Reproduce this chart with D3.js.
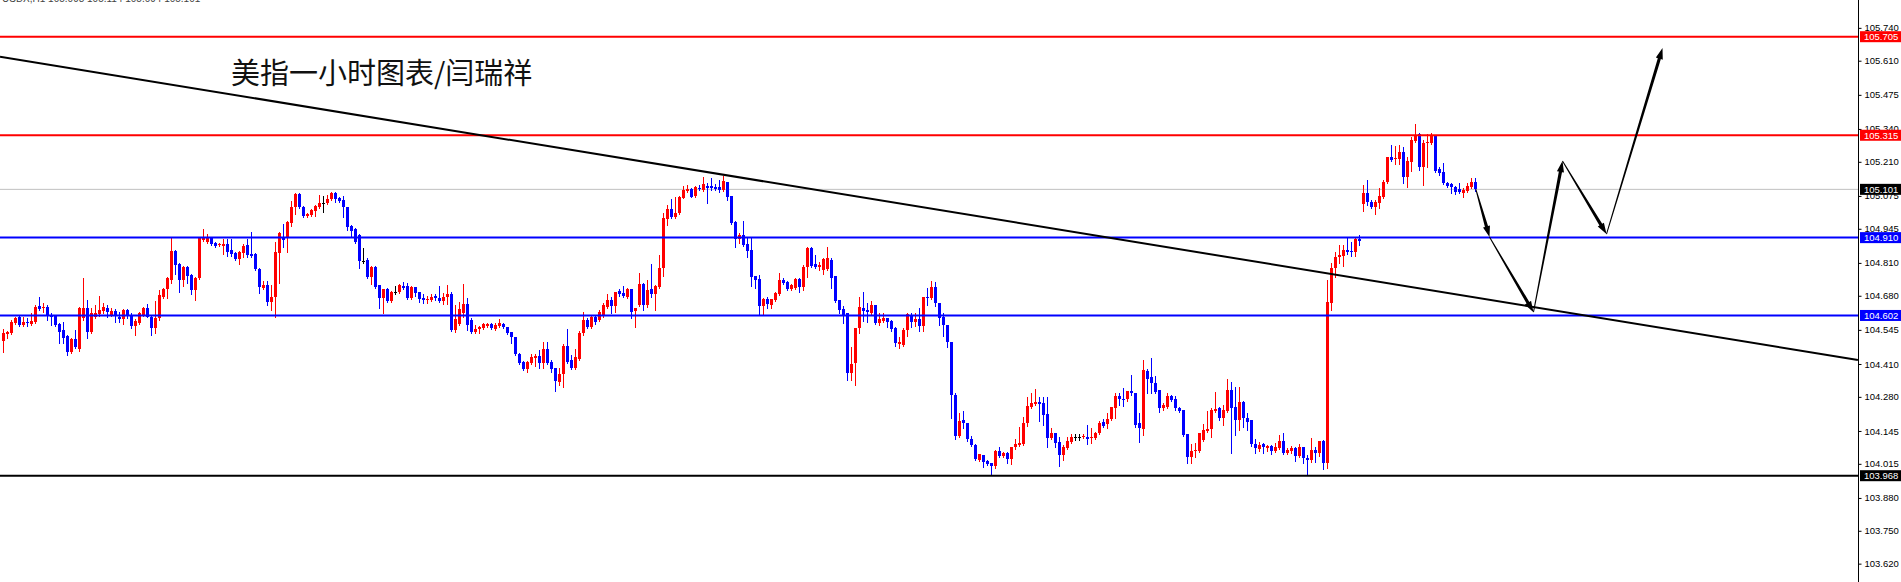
<!DOCTYPE html>
<html><head><meta charset="utf-8">
<script src="https://cdn.jsdelivr.net/npm/d3@7"></script>
<style>html,body{margin:0;padding:0;background:#fff;overflow:hidden}svg{display:block}</style>
</head><body><svg id="c" width="1901" height="582"></svg>
<script>
// ---- DATA (USDX H1) ----
const openP = [
104.501,104.528,104.532,104.572,104.596,104.564,104.576,104.568,104.576,104.639,104.631,104.635,104.599,104.599,104.568,104.544,104.520,104.457,104.509,104.469,
104.592,104.631,104.536,104.596,104.607,104.619,104.631,104.603,104.619,104.596,104.588,104.623,104.599,104.560,104.572,104.603,104.631,104.596,104.552,104.592,
104.675,104.706,104.742,104.857,104.805,104.742,104.793,104.762,104.702,104.750,104.900,104.892,104.908,104.888,104.880,104.876,104.884,104.861,104.849,104.825,
104.849,104.880,104.845,104.845,104.786,104.710,104.722,104.655,104.675,104.849,104.908,104.908,104.967,105.031,105.082,105.031,104.995,104.999,105.015,105.031,
105.047,105.047,105.063,105.086,105.067,105.059,105.031,104.955,104.944,104.920,104.817,104.821,104.754,104.793,104.722,104.671,104.706,104.659,104.694,104.694,
104.718,104.718,104.671,104.714,104.694,104.671,104.663,104.663,104.679,104.671,104.659,104.675,104.686,104.544,104.568,104.611,104.647,104.584,104.536,104.548,
104.552,104.560,104.568,104.548,104.560,104.568,104.556,104.536,104.516,104.449,104.417,104.390,104.413,104.433,104.441,104.413,104.469,104.417,104.394,104.338,
104.370,104.481,104.425,104.394,104.429,104.532,104.584,104.556,104.596,104.584,104.599,104.635,104.663,104.639,104.698,104.690,104.675,104.706,104.619,104.643,
104.726,104.643,104.706,104.686,104.714,104.790,104.983,105.023,104.991,105.007,105.067,105.094,105.102,105.074,105.106,105.098,105.114,105.114,105.110,105.110,
105.098,105.130,105.074,104.971,104.904,104.920,104.884,104.861,104.758,104.746,104.639,104.667,104.643,104.663,104.686,104.742,104.734,104.706,104.710,104.746,
104.714,104.793,104.869,104.805,104.793,104.782,104.786,104.821,104.758,104.663,104.627,104.611,104.374,104.413,104.552,104.631,104.623,104.611,104.643,104.572,
104.580,104.592,104.580,104.552,104.489,104.485,104.544,104.603,104.576,104.588,104.560,104.675,104.671,104.714,104.651,104.596,104.564,104.497,104.287,104.125,
104.188,104.176,104.113,104.089,104.030,104.049,104.026,104.018,104.006,104.065,104.045,104.057,104.034,104.081,104.089,104.093,104.176,104.239,104.251,104.259,
104.255,104.212,104.117,104.136,104.101,104.049,104.077,104.101,104.121,104.121,104.121,104.121,104.117,104.117,104.136,104.180,104.172,104.192,104.235,104.283,
104.271,104.271,104.303,104.295,104.176,104.152,104.382,104.358,104.334,104.307,104.235,104.239,104.283,104.271,104.235,104.228,104.133,104.041,104.065,104.065,
104.109,104.144,104.152,104.224,104.235,104.196,104.224,104.307,104.239,104.188,104.259,104.196,104.188,104.093,104.073,104.093,104.077,104.085,104.065,104.077,
104.105,104.057,104.065,104.077,104.045,104.081,104.038,104.030,104.069,104.057,104.105,104.018,104.651,104.790,104.833,104.837,104.861,104.857,104.853,104.904,
105.043,105.086,105.051,105.031,105.047,105.071,105.130,105.229,105.221,105.221,105.248,105.150,105.209,105.292,105.320,105.189,105.284,105.284,105.312,105.181,
105.169,105.126,105.122,105.110,105.102,105.086,105.094,105.110,105.130];
const highP = [
104.548,104.540,104.584,104.596,104.600,104.596,104.592,104.611,104.643,104.675,104.651,104.643,104.611,104.603,104.572,104.576,104.524,104.513,104.544,104.635,
104.750,104.663,104.631,104.643,104.679,104.651,104.643,104.631,104.627,104.615,104.627,104.627,104.611,104.588,104.615,104.635,104.647,104.603,104.659,104.702,
104.710,104.754,104.908,104.861,104.809,104.797,104.797,104.766,104.754,104.912,104.944,104.924,104.912,104.892,104.888,104.904,104.904,104.904,104.853,104.857,
104.884,104.904,104.932,104.849,104.790,104.738,104.738,104.722,104.892,104.932,104.963,104.975,105.055,105.086,105.086,105.035,105.007,105.023,105.039,105.078,
105.074,105.078,105.090,105.090,105.071,105.074,105.031,104.959,104.948,104.924,104.869,104.829,104.797,104.797,104.722,104.706,104.710,104.698,104.718,104.726,
104.734,104.730,104.718,104.714,104.694,104.686,104.679,104.686,104.686,104.718,104.690,104.722,104.694,104.643,104.655,104.726,104.671,104.592,104.564,104.560,
104.572,104.572,104.572,104.572,104.588,104.572,104.556,104.536,104.516,104.453,104.421,104.421,104.449,104.449,104.465,104.497,104.497,104.425,104.394,104.394,
104.489,104.548,104.445,104.469,104.540,104.615,104.592,104.599,104.603,104.623,104.651,104.686,104.675,104.694,104.706,104.718,104.710,104.706,104.631,104.770,
104.730,104.742,104.805,104.722,104.841,105.007,105.039,105.063,105.071,105.074,105.114,105.118,105.106,105.114,105.118,105.150,105.126,105.146,105.122,105.138,
105.154,105.130,105.074,104.975,104.928,104.975,104.908,104.908,104.758,104.762,104.671,104.675,104.667,104.694,104.770,104.750,104.738,104.726,104.750,104.750,
104.801,104.872,104.872,104.841,104.813,104.829,104.872,104.829,104.758,104.663,104.639,104.611,104.477,104.552,104.675,104.694,104.651,104.659,104.643,104.611,
104.611,104.592,104.584,104.556,104.516,104.552,104.611,104.611,104.611,104.631,104.675,104.710,104.738,104.734,104.651,104.611,104.564,104.497,104.295,104.216,
104.224,104.176,104.125,104.093,104.053,104.049,104.030,104.018,104.069,104.081,104.061,104.061,104.081,104.113,104.160,104.200,104.279,104.295,104.311,104.279,
104.279,104.279,104.156,104.136,104.121,104.089,104.121,104.133,104.133,104.133,104.133,104.168,104.156,104.140,104.184,104.192,104.216,104.239,104.295,104.295,
104.315,104.303,104.366,104.295,104.216,104.425,104.390,104.433,104.362,104.307,104.255,104.295,104.287,104.283,104.239,104.228,104.133,104.093,104.097,104.136,
104.172,104.224,104.235,104.299,104.239,104.247,104.350,104.338,104.319,104.319,104.263,104.216,104.188,104.113,104.101,104.097,104.089,104.089,104.097,104.129,
104.136,104.077,104.085,104.081,104.093,104.081,104.049,104.117,104.081,104.105,104.109,104.742,104.809,104.853,104.880,104.880,104.908,104.892,104.908,104.920,
105.118,105.138,105.059,105.059,105.106,105.138,105.229,105.276,105.272,105.276,105.268,105.229,105.308,105.359,105.324,105.296,105.320,105.324,105.316,105.189,
105.205,105.130,105.126,105.114,105.126,105.106,105.126,105.146,105.146];
const lowP = [
104.457,104.513,104.528,104.568,104.560,104.562,104.560,104.566,104.572,104.623,104.615,104.584,104.564,104.560,104.493,104.493,104.445,104.453,104.473,104.461,
104.584,104.513,104.532,104.592,104.599,104.611,104.596,104.599,104.576,104.576,104.568,104.592,104.552,104.524,104.570,104.599,104.594,104.524,104.532,104.584,
104.671,104.671,104.730,104.766,104.694,104.718,104.730,104.686,104.663,104.746,104.896,104.890,104.880,104.872,104.876,104.845,104.837,104.837,104.821,104.805,
104.833,104.833,104.833,104.782,104.690,104.708,104.643,104.623,104.596,104.730,104.872,104.853,104.955,105.003,105.027,104.991,104.991,104.995,104.995,105.027,
105.011,105.043,105.059,105.051,105.051,104.991,104.940,104.912,104.888,104.790,104.809,104.750,104.726,104.710,104.631,104.611,104.655,104.655,104.686,104.690,
104.706,104.667,104.667,104.679,104.655,104.651,104.651,104.661,104.663,104.655,104.647,104.647,104.540,104.536,104.564,104.596,104.544,104.534,104.534,104.532,
104.548,104.556,104.548,104.544,104.556,104.552,104.528,104.493,104.445,104.411,104.386,104.378,104.411,104.401,104.394,104.394,104.411,104.378,104.303,104.326,
104.318,104.415,104.390,104.392,104.425,104.524,104.554,104.554,104.568,104.580,104.596,104.631,104.611,104.615,104.679,104.675,104.671,104.592,104.556,104.639,
104.623,104.635,104.675,104.623,104.710,104.758,104.959,104.987,104.989,105.003,105.065,105.090,105.069,105.072,105.098,105.096,105.047,105.098,105.098,105.090,
105.094,105.059,104.965,104.872,104.888,104.878,104.833,104.718,104.710,104.603,104.607,104.631,104.631,104.661,104.684,104.726,104.702,104.704,104.706,104.694,
104.702,104.754,104.793,104.790,104.782,104.766,104.782,104.710,104.655,104.611,104.572,104.346,104.346,104.326,104.532,104.580,104.576,104.607,104.568,104.564,
104.576,104.556,104.540,104.481,104.473,104.483,104.520,104.556,104.560,104.540,104.540,104.643,104.667,104.639,104.564,104.520,104.477,104.196,104.113,104.121,
104.156,104.105,104.085,104.030,104.028,104.002,104.010,103.970,103.998,104.041,104.041,104.018,104.014,104.073,104.085,104.089,104.164,104.237,104.249,104.184,
104.168,104.081,104.115,104.081,104.006,104.030,104.075,104.099,104.109,104.109,104.117,104.093,104.097,104.115,104.133,104.160,104.156,104.188,104.196,104.247,
104.243,104.263,104.287,104.160,104.101,104.129,104.295,104.295,104.297,104.220,104.228,104.237,104.263,104.228,104.220,104.125,104.018,104.018,104.041,104.061,
104.105,104.140,104.121,104.222,104.188,104.168,104.220,104.057,104.129,104.148,104.160,104.148,104.085,104.057,104.065,104.057,104.065,104.053,104.061,104.075,
104.055,104.055,104.057,104.026,104.041,104.018,103.970,104.022,104.022,104.045,103.994,103.998,104.623,104.754,104.809,104.797,104.845,104.837,104.837,104.880,
105.015,105.039,105.029,105.003,105.027,105.067,105.126,105.213,105.201,105.201,105.126,105.110,105.173,105.288,105.177,105.118,105.189,105.282,105.171,105.157,
105.122,105.110,105.086,105.082,105.086,105.071,105.092,105.106,105.094];
const closeP = [
104.532,104.536,104.576,104.592,104.564,104.576,104.572,104.580,104.635,104.627,104.635,104.603,104.596,104.564,104.536,104.513,104.457,104.509,104.477,104.631,
104.631,104.536,104.611,104.611,104.623,104.635,104.615,104.619,104.603,104.588,104.623,104.599,104.560,104.580,104.611,104.631,104.596,104.552,104.592,104.682,
104.706,104.750,104.857,104.801,104.742,104.793,104.758,104.702,104.750,104.908,104.908,104.912,104.884,104.876,104.884,104.884,104.853,104.845,104.825,104.853,
104.876,104.841,104.837,104.786,104.714,104.722,104.655,104.675,104.853,104.928,104.900,104.971,105.031,105.082,105.031,104.995,105.003,105.019,105.035,105.047,
105.047,105.063,105.086,105.063,105.055,105.031,104.952,104.936,104.892,104.817,104.817,104.754,104.793,104.714,104.671,104.706,104.659,104.694,104.694,104.722,
104.710,104.671,104.714,104.690,104.667,104.663,104.667,104.675,104.671,104.659,104.675,104.686,104.544,104.588,104.627,104.647,104.564,104.536,104.548,104.556,
104.568,104.568,104.552,104.564,104.572,104.556,104.532,104.516,104.449,104.413,104.390,104.417,104.437,104.441,104.413,104.469,104.413,104.390,104.342,104.370,
104.481,104.417,104.394,104.437,104.532,104.584,104.556,104.596,104.576,104.615,104.643,104.663,104.639,104.694,104.686,104.679,104.706,104.615,104.631,104.726,
104.643,104.702,104.686,104.718,104.790,104.987,105.023,104.991,105.007,105.071,105.098,105.102,105.071,105.110,105.102,105.122,105.106,105.106,105.102,105.098,
105.134,105.071,104.967,104.904,104.920,104.880,104.857,104.754,104.742,104.639,104.667,104.647,104.667,104.690,104.742,104.730,104.706,104.722,104.746,104.714,
104.793,104.869,104.797,104.793,104.801,104.825,104.829,104.750,104.659,104.623,104.599,104.374,104.409,104.552,104.635,104.619,104.615,104.643,104.572,104.588,
104.592,104.576,104.548,104.493,104.497,104.544,104.607,104.576,104.588,104.560,104.675,104.671,104.714,104.651,104.592,104.564,104.497,104.287,104.125,104.184,
104.176,104.113,104.089,104.034,104.053,104.022,104.014,104.006,104.065,104.045,104.057,104.034,104.081,104.093,104.097,104.176,104.243,104.255,104.259,104.251,
104.208,104.117,104.136,104.097,104.049,104.081,104.105,104.121,104.121,104.121,104.125,104.113,104.121,104.136,104.176,104.164,104.192,104.239,104.283,104.271,
104.268,104.303,104.295,104.168,104.156,104.386,104.350,104.334,104.299,104.235,104.247,104.283,104.267,104.235,104.224,104.129,104.041,104.065,104.069,104.136,
104.148,104.152,104.228,104.231,104.196,104.228,104.307,104.235,104.188,104.259,104.196,104.180,104.093,104.077,104.089,104.081,104.085,104.065,104.081,104.105,
104.057,104.069,104.077,104.045,104.081,104.038,104.030,104.069,104.057,104.105,104.018,104.655,104.790,104.833,104.841,104.861,104.853,104.853,104.904,104.896,
105.086,105.051,105.031,105.051,105.074,105.130,105.229,105.217,105.225,105.248,105.150,105.213,105.296,105.312,105.189,105.284,105.288,105.312,105.173,105.165,
105.126,105.114,105.110,105.090,105.090,105.098,105.114,105.130,105.101];

const tickValues = [105.740,105.610,105.475,105.340,105.210,105.075,104.945,104.810,104.680,104.545,104.410,104.280,104.145,104.015,103.880,103.750,103.620];
const levelPrices = [105.705, 105.315, 104.910, 104.602, 103.968];
const levelColors = ["#ff0000", "#ff0000", "#0000ff", "#0000ff", "#000000"];
const currentPrice = 105.101;
const trendPoints = [[-0.875, 105.626], [463.6, 104.426]];          // [bar index, price]
const forecastPoints = [[368.1, 105.101], [371.5, 104.912], [382.5, 104.615], [389.75, 105.213], [400.75, 104.924], [414.75, 105.660]];
const titleText = "美指一小时图表/闫瑞祥";
const headerText = "USDX,H1  105.098 105.114 105.094 105.101";

// ---- DRAW ----
const W = 1901, H = 582, axisX = 1858;
const N = openP.length;
const svg = d3.select("#c");
svg.append("rect").attr("width", W).attr("height", H).attr("fill", "#fff");

const x = d3.scaleLinear().domain([0, N - 1]).range([3.5, 3.5 + 4 * (N - 1)]);
const y = d3.scaleLinear().domain([103.968, 105.705]).range([475.7, 36.7]);

const plot = svg.append("g");

// header (clipped at top)
svg.append("text").attr("x", 2).attr("y", 2).attr("font-family", "Liberation Sans, Arial")
  .attr("font-size", 10).attr("fill", "#444").text(headerText);

// current price line (gray)
plot.append("line").attr("x1", 0).attr("x2", axisX).attr("y1", y(currentPrice)).attr("y2", y(currentPrice))
  .attr("stroke", "#c0c0c0").attr("stroke-width", 1);

// candles
const bars = d3.range(N).map(i => ({ i, o: openP[i], h: highP[i], l: lowP[i], c: closeP[i] }));
const colorOf = d => d.c > d.o ? "#ff0000" : (d.c < d.o ? "#0000ff" : "#000000");
const cg = plot.append("g").attr("shape-rendering", "crispEdges");
cg.selectAll("line.w").data(bars).join("line").attr("class", "w")
  .attr("x1", d => x(d.i)).attr("x2", d => x(d.i))
  .attr("y1", d => Math.round(y(d.h))).attr("y2", d => Math.round(y(d.l)) + 1)
  .attr("stroke", colorOf).attr("stroke-width", 1);
cg.selectAll("rect.b").data(bars).join("rect").attr("class", "b")
  .attr("x", d => x(d.i) - 1.5).attr("width", 3)
  .attr("y", d => Math.round(y(Math.max(d.o, d.c))))
  .attr("height", d => Math.max(1, Math.round(y(Math.min(d.o, d.c))) - Math.round(y(Math.max(d.o, d.c)))))
  .attr("fill", colorOf);

// horizontal levels
plot.selectAll("line.lvl").data(levelPrices).join("line").attr("class", "lvl")
  .attr("x1", 0).attr("x2", axisX).attr("y1", d => y(d)).attr("y2", d => y(d))
  .attr("stroke", (d, k) => levelColors[k]).attr("stroke-width", 2);

// trend line
plot.append("line")
  .attr("x1", x(trendPoints[0][0])).attr("y1", y(trendPoints[0][1]))
  .attr("x2", x(trendPoints[1][0])).attr("y2", y(trendPoints[1][1]))
  .attr("stroke", "#000").attr("stroke-width", 2);

// forecast arrows (tapered with heads)
const ag = plot.append("g").attr("fill", "#000");
for (let k = 0; k < forecastPoints.length - 1; k++) {
  const x0 = x(forecastPoints[k][0]), y0 = y(forecastPoints[k][1]);
  const x1 = x(forecastPoints[k + 1][0]), y1 = y(forecastPoints[k + 1][1]);
  const dx = x1 - x0, dy = y1 - y0, len = Math.hypot(dx, dy);
  const ux = dx / len, uy = dy / len, nx = -uy, ny = ux;
  const hl = 11, hw = 3.6, w0 = 0.5, w1 = 1.6;
  const bx = x1 - ux * hl, by = y1 - uy * hl;
  const pts = [
    [x0 + nx * w0, y0 + ny * w0], [bx + nx * w1, by + ny * w1], [bx + nx * hw, by + ny * hw],
    [x1, y1], [bx - nx * hw, by - ny * hw], [bx - nx * w1, by - ny * w1], [x0 - nx * w0, y0 - ny * w0]
  ];
  ag.append("path").attr("d", d3.line()(pts) + "Z");
}

// title
svg.append("text").attr("x", 231).attr("y", 84)
  .attr("font-family", "Noto Sans CJK SC, sans-serif").attr("font-size", 29)
  .attr("fill", "#111").text(titleText);

// right axis
svg.append("rect").attr("x", axisX + 0.5).attr("y", 0).attr("width", W - axisX).attr("height", H).attr("fill", "#fff");
const axis = d3.axisRight(y).tickValues(tickValues).tickSize(3).tickPadding(3).tickFormat(d3.format(".3f"));
const ax = svg.append("g").attr("transform", `translate(${axisX + 0.5},0)`).call(axis);
ax.select(".domain").attr("d", `M0,0V${H}`).attr("stroke", "#000");
ax.selectAll(".tick line").attr("stroke", "#000");
ax.selectAll(".tick text").attr("font-family", "Liberation Sans, Arial").attr("font-size", 9.5).attr("fill", "#000");

// price labels
const labelData = levelPrices.map((p, k) => ({ p, col: levelColors[k] }));
labelData.push({ p: currentPrice, col: "#000000" });
const lg = svg.append("g");
labelData.forEach(d => {
  lg.append("rect").attr("x", axisX + 2).attr("y", y(d.p) - 5.5).attr("width", W - axisX - 2).attr("height", 11).attr("fill", d.col);
  lg.append("text").attr("x", axisX + 6).attr("y", y(d.p)).attr("dy", "0.35em")
    .attr("font-family", "Liberation Sans, Arial").attr("font-size", 9.5).attr("fill", "#fff").text(d3.format(".3f")(d.p));
});
</script></body></html>
